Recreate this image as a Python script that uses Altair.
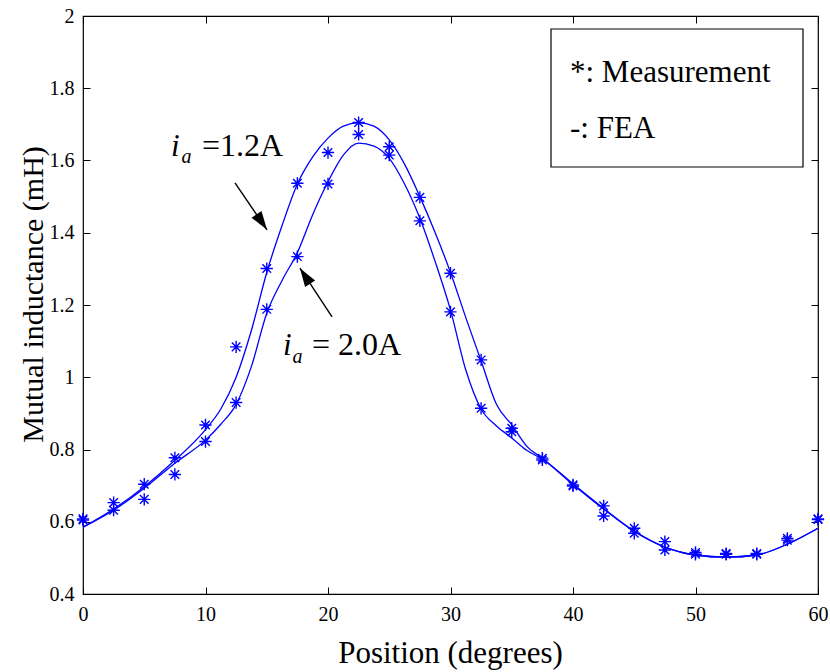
import altair as alt
import pandas as pd

FONT = "Liberation Serif, Times New Roman, serif"
BLUE = "#0000ff"

# ---------------- data ----------------
meas_x = [0, 2.5, 5, 7.5, 10, 12.5, 15, 17.5, 20, 22.5, 25, 27.5, 30,
          32.5, 35, 37.5, 40, 42.5, 45, 47.5, 50, 52.5, 55, 57.5, 60]
meas_12 = [0.608, 0.653, 0.704, 0.777, 0.868, 1.084, 1.301, 1.537, 1.622, 1.705, 1.638, 1.498, 1.288,
           1.048, 0.859, 0.776, 0.702, 0.644, 0.582, 0.545, 0.515, 0.512, 0.512, 0.554, 0.608]
meas_20 = [0.605, 0.632, 0.662, 0.731, 0.822, 0.930, 1.188, 1.334, 1.535, 1.672, 1.615, 1.433, 1.181,
           0.914, 0.849, 0.771, 0.699, 0.616, 0.568, 0.522, 0.510, 0.510, 0.510, 0.549, 0.606]

fea_x = [0, 2.5, 5, 7.5, 10, 11.25, 12.5, 13.75, 15, 16.25, 17.5, 18.75, 20, 21.25, 22.5, 23.75,
         25, 26.25, 27.5, 28.75, 30, 31.25, 32.5, 33.75, 35, 36.25, 37.5, 40, 42.5, 45, 47.5,
         50, 52.5, 55, 57.5, 60]
fea_12 = [0.585, 0.635, 0.697, 0.770, 0.855, 0.912, 1.000, 1.130, 1.290, 1.420, 1.535, 1.610, 1.662,
          1.695, 1.705, 1.695, 1.657, 1.590, 1.500, 1.400, 1.290, 1.165, 1.045, 0.925, 0.868, 0.808,
          0.776, 0.705, 0.637, 0.574, 0.530, 0.508, 0.502, 0.508, 0.538, 0.582]
fea_20 = [0.585, 0.632, 0.693, 0.762, 0.826, 0.870, 0.925, 1.030, 1.177, 1.268, 1.345, 1.450, 1.541,
          1.615, 1.648, 1.640, 1.606, 1.535, 1.440, 1.320, 1.186, 1.020, 0.912, 0.865, 0.832, 0.797,
          0.773, 0.703, 0.635, 0.573, 0.530, 0.508, 0.502, 0.508, 0.538, 0.582]

series_names = ["1.2A", "2.0A"]

x_ticks = [0, 10, 20, 30, 40, 50, 60]
y_ticks = [0.4, 0.6, 0.8, 1.0, 1.2, 1.4, 1.6, 1.8, 2.0]

legend_lines = ["*: Measurement", "-: FEA"]

# annotation text (data coordinates)
ann_i_x = [7.18, 16.33]
ann_i_y = [1.6125, 1.0616]
ann_a_x = [8.05, 17.10]
ann_a_y = [1.593, 1.0395]
ann_eq_x = [9.71, 18.70]
ann_eq_text = ["=1.2A", "= 2.0A"]

# arrows (data coordinates)
arr_tail_x = [12.41, 20.33]
arr_tail_y = [1.538, 1.167]
arr_tip_x = [15.02, 17.71]
arr_tip_y = [1.408, 1.302]
arr_angle = [146, 327]

# ---------------- tables ----------------
fea_df = pd.concat([
    pd.DataFrame({"x": fea_x, "y": fea_12, "series": series_names[0]}),
    pd.DataFrame({"x": fea_x, "y": fea_20, "series": series_names[1]}),
])
meas_df = pd.concat([
    pd.DataFrame({"x": meas_x, "y": meas_12, "series": series_names[0]}),
    pd.DataFrame({"x": meas_x, "y": meas_20, "series": series_names[1]}),
])
arr_df = pd.DataFrame({"x": arr_tail_x, "y": arr_tail_y, "x2": arr_tip_x, "y2": arr_tip_y,
                       "tx": arr_tip_x, "ty": arr_tip_y, "ang": arr_angle})
i_df = pd.DataFrame({"x": ann_i_x, "y": ann_i_y, "t": ["i", "i"]})
a_df = pd.DataFrame({"x": ann_a_x, "y": ann_a_y, "t": ["a", "a"]})
eq_df = pd.DataFrame({"x": ann_eq_x, "y": ann_i_y, "t": ann_eq_text})
one = pd.DataFrame({"k": [0]})

W, H = 735, 578
xs = alt.Scale(domain=[0, 60], nice=False, zero=False)
ys = alt.Scale(domain=[0.4, 2.0], nice=False, zero=False)


def tick_axis(orient, offset, values):
    return alt.Axis(orient=orient, offset=offset, values=values, labels=False, domain=False,
                    grid=False, ticks=True, tickSize=7, tickColor="black", tickWidth=1, title=None)


STAR = "M-1,0L1,0M0,-1L0,1M-0.7,-0.7L0.7,0.7M-0.7,0.7L0.7,-0.7"
HEAD = "M0,0L0.32,1L-0.32,1Z"

lines = alt.Chart(fea_df).mark_line(color=BLUE, strokeWidth=1.3, interpolate="monotone").encode(
    x=alt.X("x:Q", scale=xs, axis=alt.Axis(
        orient="bottom", values=x_ticks, format="d", ticks=False, domain=False, grid=False,
        labelFlush=False, labelFont=FONT, labelFontSize=20, labelPadding=10, labelColor="black",
        title="Position (degrees)", titleFont=FONT, titleFontSize=31, titleFontWeight="normal",
        titleColor="black", titleX=367, titleY=68, titleAlign="center", titleBaseline="alphabetic")),
    y=alt.Y("y:Q", scale=ys, axis=alt.Axis(
        orient="left", values=y_ticks, format="~g", ticks=False, domain=False, grid=False,
        labelFlush=False, labelFont=FONT, labelFontSize=20, labelPadding=9, labelColor="black",
        title="Mutual inductance (mH)", titleFont=FONT, titleFontSize=30, titleFontWeight="normal",
        titleColor="black", titleAngle=270, titleX=-41, titleY=278, titleAlign="center",
        titleBaseline="alphabetic")),
    detail="series:N",
)

stars = alt.Chart(meas_df).mark_point(shape=STAR, filled=False, color=BLUE, size=150,
                                      strokeWidth=1.4, opacity=1).encode(
    x=alt.X("x:Q", scale=xs, axis=tick_axis("top", -H, x_ticks)),
    y=alt.Y("y:Q", scale=ys, axis=tick_axis("right", -W, y_ticks)),
)

shafts = alt.Chart(arr_df).mark_rule(color="black", strokeWidth=1.4).encode(
    x=alt.X("x:Q", scale=xs, axis=tick_axis("bottom", -H, x_ticks)),
    y=alt.Y("y:Q", scale=ys, axis=tick_axis("left", -W, y_ticks)),
    x2="x2:Q",
    y2="y2:Q",
)

heads = alt.Chart(arr_df).mark_point(shape=HEAD, filled=True, color="black", size=1400,
                                     strokeWidth=0, opacity=1).encode(
    x=alt.X("tx:Q", scale=xs, axis=None),
    y=alt.Y("ty:Q", scale=ys, axis=None),
    angle=alt.Angle("ang:Q", scale=None),
)

txt_i = alt.Chart(i_df).mark_text(font=FONT, fontSize=31, fontStyle="italic", align="left",
                                  baseline="alphabetic", color="black").encode(
    x=alt.X("x:Q", scale=xs, axis=None), y=alt.Y("y:Q", scale=ys, axis=None), text="t:N")
txt_a = alt.Chart(a_df).mark_text(font=FONT, fontSize=20, fontStyle="italic", align="left",
                                  baseline="alphabetic", color="black").encode(
    x=alt.X("x:Q", scale=xs, axis=None), y=alt.Y("y:Q", scale=ys, axis=None), text="t:N")
txt_eq = alt.Chart(eq_df).mark_text(font=FONT, fontSize=32, align="left",
                                    baseline="alphabetic", color="black").encode(
    x=alt.X("x:Q", scale=xs, axis=None), y=alt.Y("y:Q", scale=ys, axis=None), text="t:N")

legend_box = alt.Chart(one).mark_rect(fill="white", stroke="black", strokeWidth=1.2).encode(
    x=alt.value(468), x2=alt.value(720), y=alt.value(13), y2=alt.value(151))
legend_t1 = alt.Chart(one).mark_text(font=FONT, fontSize=31, align="left", baseline="alphabetic",
                                     color="black", text=legend_lines[0]).encode(
    x=alt.value(487), y=alt.value(66))
legend_t2 = alt.Chart(one).mark_text(font=FONT, fontSize=31, align="left", baseline="alphabetic",
                                     color="black", text=legend_lines[1]).encode(
    x=alt.value(487), y=alt.value(122))

chart = alt.layer(
    lines, stars, shafts, heads, txt_i, txt_a, txt_eq, legend_box, legend_t1, legend_t2
).resolve_axis(
    x="independent", y="independent"
).properties(
    width=W, height=H,
    padding={"left": 83, "top": 16, "right": 12, "bottom": 78},
    autosize=alt.AutoSizeParams(type="none"),
    background="white",
).configure_view(stroke="black", strokeWidth=1.2)

chart.save("out.html", embed_options={"renderer": "svg", "actions": False})
